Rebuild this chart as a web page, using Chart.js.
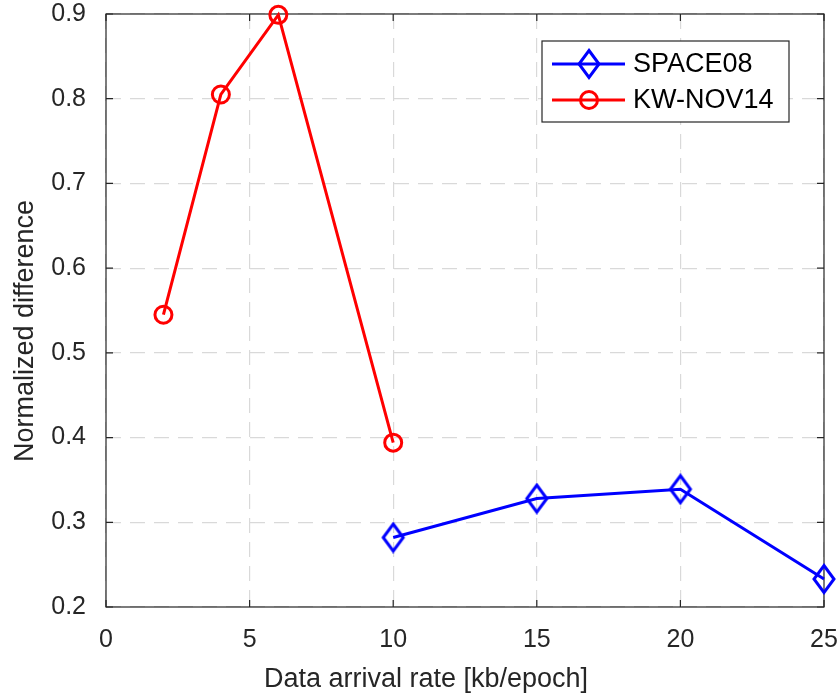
<!DOCTYPE html>
<html>
<head>
<meta charset="utf-8">
<script src="https://cdn.jsdelivr.net/npm/chart.js@4.4.1/dist/chart.umd.min.js"></script>
<style>
  html, body { margin: 0; padding: 0; background: #fff; }
  #wrap { width: 838px; height: 698px; }
</style>
</head>
<body>
<div id="wrap"><canvas id="chart" width="838" height="698"></canvas></div>
<script>
// data
const space08X = [10, 15, 20, 25];
const space08Y = [0.282, 0.328, 0.339, 0.233];
const kwNov14X = [2, 4, 6, 10];
const kwNov14Y = [0.545, 0.805, 0.899, 0.394];
const xTicks = [0, 5, 10, 15, 20, 25];
const yTicks = [0.2, 0.3, 0.4, 0.5, 0.6, 0.7, 0.8, 0.9];

const FONT = "'Liberation Sans', Arial, Helvetica, sans-serif";
const axisColor = '#262626';

// MATLAB style diamond marker (a bit taller than wide)
function diamondMarker(color) {
    const c = document.createElement('canvas');
    c.width = 26; c.height = 32;
    const g = c.getContext('2d');
    g.strokeStyle = color;
    g.lineWidth = 3;
    g.lineJoin = 'miter';
    g.beginPath();
    g.moveTo(13, 2.5);
    g.lineTo(23, 16);
    g.lineTo(13, 29.5);
    g.lineTo(3, 16);
    g.closePath();
    g.stroke();
    return c;
}
const blueDiamond = diamondMarker('#0000ff');

function toPoints(xs, ys) {
    return xs.map((x, i) => ({ x: x, y: ys[i] }));
}

// box around the axes + inward tick marks on all four sides
const boxPlugin = {
    id: 'box',
    beforeDatasetsDraw(chart) {
        const { ctx, chartArea: a, scales } = chart;
        ctx.save();
        ctx.strokeStyle = axisColor;
        ctx.lineWidth = 1.2;
        ctx.strokeRect(a.left, a.top, a.right - a.left, a.bottom - a.top);
        ctx.beginPath();
        xTicks.forEach(v => {
            const px = scales.x.getPixelForValue(v);
            ctx.moveTo(px, a.bottom); ctx.lineTo(px, a.bottom - 7);
            ctx.moveTo(px, a.top); ctx.lineTo(px, a.top + 7);
        });
        yTicks.forEach(v => {
            const py = scales.y.getPixelForValue(v);
            ctx.moveTo(a.left, py); ctx.lineTo(a.left + 7, py);
            ctx.moveTo(a.right, py); ctx.lineTo(a.right - 7, py);
        });
        ctx.stroke();
        ctx.restore();
    },
    afterDraw(chart) {
        const { ctx } = chart;
        ctx.save();
        ctx.fillStyle = axisColor;
        ctx.font = '27px ' + FONT;
        ctx.textAlign = 'center';
        ctx.textBaseline = 'alphabetic';
        ctx.fillText('Data arrival rate [kb/epoch]', 426, 687);
        ctx.translate(33, 331);
        ctx.rotate(-Math.PI / 2);
        ctx.fillText('Normalized difference', 0, 0);
        ctx.restore();

        // legend
        const lx = 542, ly = 41, lw = 247, lh = 81;
        ctx.save();
        ctx.fillStyle = '#fff';
        ctx.fillRect(lx, ly, lw, lh);
        ctx.strokeStyle = axisColor;
        ctx.lineWidth = 1.2;
        ctx.strokeRect(lx, ly, lw, lh);
        const rows = [
            { label: 'SPACE08', color: '#0000ff', y: 64, marker: 'diamond' },
            { label: 'KW-NOV14', color: '#ff0000', y: 100, marker: 'circle' }
        ];
        rows.forEach(r => {
            ctx.strokeStyle = r.color;
            ctx.lineWidth = 3;
            ctx.beginPath();
            ctx.moveTo(552, r.y); ctx.lineTo(625, r.y);
            ctx.stroke();
            if (r.marker === 'diamond') {
                ctx.drawImage(blueDiamond, 589 - 13, r.y - 16);
            } else {
                ctx.beginPath();
                ctx.arc(589, r.y, 8.5, 0, Math.PI * 2);
                ctx.stroke();
            }
            ctx.fillStyle = '#000';
            ctx.font = '27px ' + FONT;
            ctx.textAlign = 'left';
            ctx.textBaseline = 'middle';
            ctx.fillText(r.label, 633, r.y + 1);
        });
        ctx.restore();
    }
};

const ctx = document.getElementById('chart').getContext('2d');
const chart = new Chart(ctx, {
    type: 'line',
    data: {
        datasets: [
            {
                label: 'SPACE08',
                data: toPoints(space08X, space08Y),
                borderColor: '#0000ff',
                backgroundColor: 'rgba(0,0,0,0)',
                borderWidth: 3,
                pointStyle: blueDiamond,
                pointRadius: 11,
                tension: 0,
                clip: false
            },
            {
                label: 'KW-NOV14',
                data: toPoints(kwNov14X, kwNov14Y),
                borderColor: '#ff0000',
                backgroundColor: 'rgba(0,0,0,0)',
                borderWidth: 3,
                pointStyle: 'circle',
                pointRadius: 8.5,
                pointBorderWidth: 3,
                pointBorderColor: '#ff0000',
                pointBackgroundColor: 'rgba(0,0,0,0)',
                tension: 0,
                clip: false
            }
        ]
    },
    options: {
        responsive: false,
        animation: false,
        layout: { padding: { left: 0, right: 14, top: 10, bottom: 0 } },
        plugins: {
            legend: { display: false },
            tooltip: { enabled: false }
        },
        scales: {
            x: {
                type: 'linear',
                min: 0,
                max: 25,
                afterFit: s => {
                    s.height = 91;
                    s.paddingLeft = 0; s.paddingRight = 0;
                },
                afterBuildTicks: s => { s.ticks = xTicks.map(v => ({ value: v })); },
                ticks: {
                    color: axisColor,
                    font: { family: FONT, size: 25 },
                    padding: 18,
                    maxRotation: 0
                },
                grid: {
                    color: '#d9d9d9',
                    lineWidth: 1.2,
                    drawTicks: false
                },
                border: { display: false, dash: [15, 9] }
            },
            y: {
                type: 'linear',
                min: 0.2,
                max: 0.9,
                afterFit: s => {
                    s.width = 106;
                    s.paddingTop = 0; s.paddingBottom = 0;
                },
                afterBuildTicks: s => { s.ticks = yTicks.map(v => ({ value: v })); },
                ticks: {
                    color: axisColor,
                    font: { family: FONT, size: 25 },
                    padding: 20,
                    callback: v => v.toFixed(1)
                },
                grid: {
                    color: '#d9d9d9',
                    lineWidth: 1.2,
                    drawTicks: false
                },
                border: { display: false, dash: [15, 9] }
            }
        }
    },
    plugins: [boxPlugin]
});
</script>
</body>
</html>
